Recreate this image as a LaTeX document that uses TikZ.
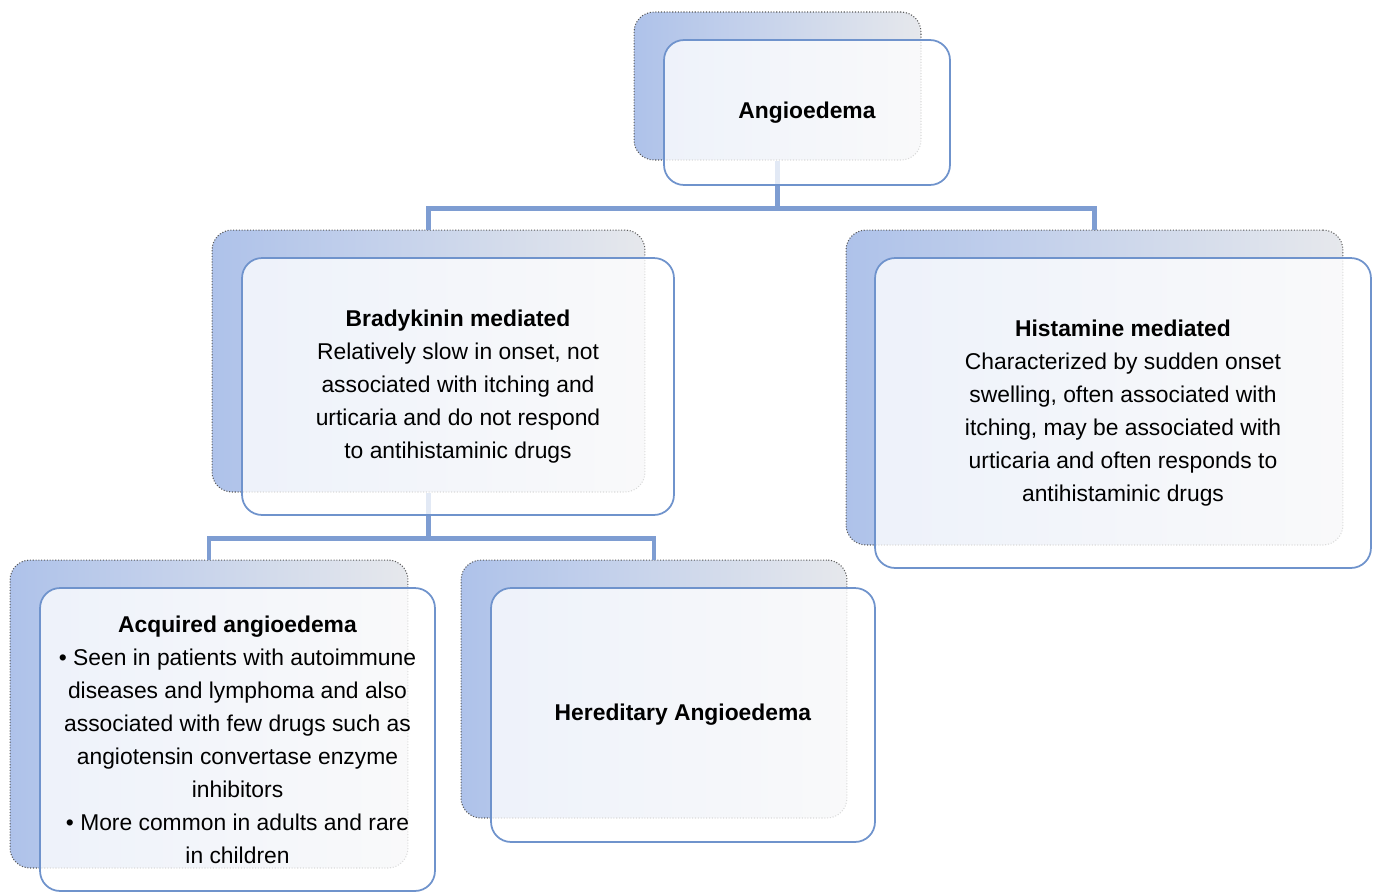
\documentclass[tikz,border=0pt]{standalone}
\usepackage{fontspec}
\setmainfont{Liberation Sans}
\usetikzlibrary{positioning,calc}
\definecolor{cardblue}{HTML}{6F93CC}
\definecolor{linkblue}{HTML}{7E9DD2}
\definecolor{shadeblue}{HTML}{AEC2EA}
\definecolor{shadelight}{HTML}{E6E8EC}

\begin{document}
\begin{tikzpicture}[
    x=0.02cm, y=-0.02cm,
    card/.style={rectangle, draw=cardblue, line width=1pt, rounded corners=0.4cm, fill=white, fill opacity=0.78, text opacity=1, align=center, font=\fontsize{13}{18.8}\selectfont},
    backcard/.style={rectangle, draw=black!65, densely dotted, line width=0.6pt, rounded corners=0.4cm, left color=shadeblue, right color=shadelight},
    link/.style={draw=linkblue, line width=2.6pt}
]
    \useasboundingbox (0,0) rectangle (1376,893);

    % Back cards
    \node[backcard, minimum width=5.74cm, minimum height=2.96cm] (angioS) at (777.5,86) {};
    \node[backcard, minimum width=8.66cm, minimum height=5.24cm] (bradyS) at (428.5,361) {};
    \node[backcard, minimum width=9.94cm, minimum height=6.3cm] (histS) at (1094.5,387.5) {};
    \node[backcard, minimum width=7.96cm, minimum height=6.16cm] (acqS) at (209,714) {};
    \node[backcard, minimum width=7.72cm, minimum height=5.16cm] (heredS) at (654,689) {};

    % Connectors
    \draw[link] (angioS.south) -- ++(0,48) -| (bradyS.north);
    \draw[link] (angioS.south) -- ++(0,48) -| (histS.north);
    \draw[link] (bradyS.south) -- ++(0,46) -| (acqS.north);
    \draw[link] (bradyS.south) -- ++(0,46) -| (heredS.north);

    % Front cards
    \node[card, minimum width=5.72cm, minimum height=2.9cm] (angio) at (807,112.5) {\textbf{Angioedema}};
    \node[card, minimum width=8.64cm, minimum height=5.14cm] (brady) at (458,386.5)
        {\textbf{Bradykinin mediated}\\Relatively slow in onset, not\\associated with itching and\\urticaria and do not respond\\to antihistaminic drugs};
    \node[card, minimum width=9.92cm, minimum height=6.2cm] (hist) at (1123,413)
        {\textbf{Histamine mediated}\\Characterized by sudden onset\\swelling, often associated with\\itching, may be associated with\\urticaria and often responds to\\antihistaminic drugs};
    \node[card, minimum width=7.9cm, minimum height=6.06cm] (acq) at (237.5,739.5)
        {\textbf{Acquired angioedema}\\\textbullet\ Seen in patients with autoimmune\\diseases and lymphoma and also\\associated with few drugs such as\\angiotensin convertase enzyme\\inhibitors\\\textbullet\ More common in adults and rare\\in children};
    \node[card, minimum width=7.68cm, minimum height=5.08cm] (hered) at (683,715) {\textbf{Hereditary Angioedema}};
\end{tikzpicture}
\end{document}
